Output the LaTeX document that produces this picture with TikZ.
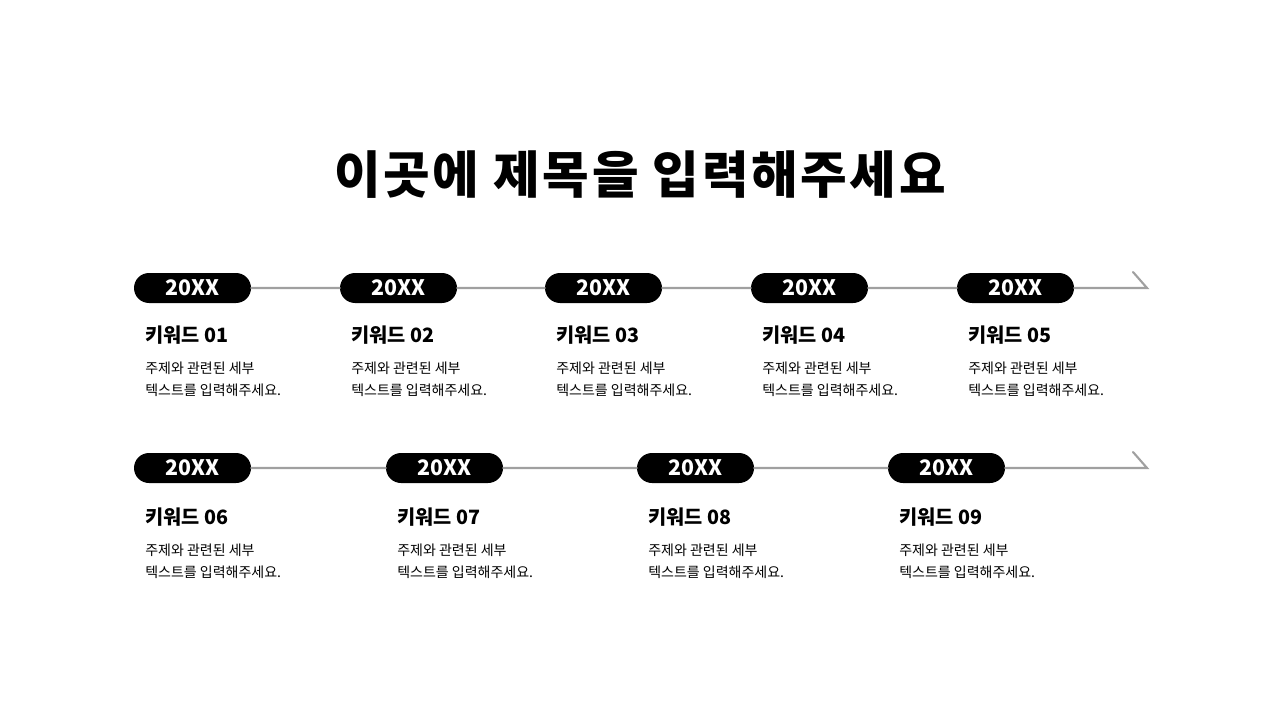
\documentclass[tikz,border=0pt]{standalone}
\usepackage{fontspec}
\newfontfamily\krfont{Noto Sans CJK KR}
\newfontfamily\krtitle[LetterSpace=5.2]{Noto Sans CJK KR}
\definecolor{linegray}{HTML}{A0A0A0}
\tikzset{
  title/.style={font=\krtitle\bfseries\fontsize{38}{44}\selectfont},
  year/.style={fill=black, text=white, rounded corners=11.25pt, inner sep=0pt,
    minimum width=87.75pt, minimum height=22.5pt, font=\krfont\bfseries\fontsize{16}{18}\selectfont},
  keyword/.style={anchor=base west, inner sep=0pt, font=\krfont\bfseries\fontsize{14.8}{18}\selectfont},
  detail/.style={anchor=base west, inner sep=0pt, align=left, font=\krfont\fontsize{10.5}{16.1}\selectfont},
  tl/.style={draw=linegray, line width=1.6pt, line cap=round},
}
\begin{document}
\begin{tikzpicture}[x=0.75pt,y=-0.75pt]
   \useasboundingbox[fill=white] (0,0) rectangle (1280,720);
   % 제목
   \node[title] (title) at (640,175) {이곳에 제목을 입력해주세요};

   % 첫째 줄
   \node[year] (y1) at (192.5,288) {20XX};
   \node[year] (y2) at (398.5,288) {20XX};
   \node[year] (y3) at (603.5,288) {20XX};
   \node[year] (y4) at (809.5,288) {20XX};
   \node[year] (y5) at (1015.5,288) {20XX};
   \coordinate (e1) at (1147,288);
   \draw[tl] (y1.east) -- (y2.west) (y2.east) -- (y3.west) (y3.east) -- (y4.west)
      (y4.east) -- (y5.west) (y5.east) -- (e1) -- ++(-14,-16);

   \node[keyword] (k1) at (145,342) {키워드 01};
   \node[keyword] (k2) at (351,342) {키워드 02};
   \node[keyword] (k3) at (556,342) {키워드 03};
   \node[keyword] (k4) at (762,342) {키워드 04};
   \node[keyword] (k5) at (968,342) {키워드 05};
   % 설명 (base = 둘째 줄)
   \node[detail] (d1) at (145,395) {주제와 관련된 세부\\텍스트를 입력해주세요.};
   \node[detail] (d2) at (351,395) {주제와 관련된 세부\\텍스트를 입력해주세요.};
   \node[detail] (d3) at (556,395) {주제와 관련된 세부\\텍스트를 입력해주세요.};
   \node[detail] (d4) at (762,395) {주제와 관련된 세부\\텍스트를 입력해주세요.};
   \node[detail] (d5) at (968,395) {주제와 관련된 세부\\텍스트를 입력해주세요.};

   % 둘째 줄
   \node[year] (y6) at (192.5,468) {20XX};
   \node[year] (y7) at (444.5,468) {20XX};
   \node[year] (y8) at (695.5,468) {20XX};
   \node[year] (y9) at (946.5,468) {20XX};
   \coordinate (e2) at (1147,468);
   \draw[tl] (y6.east) -- (y7.west) (y7.east) -- (y8.west) (y8.east) -- (y9.west)
      (y9.east) -- (e2) -- ++(-14,-16);

   \node[keyword] (k6) at (145,524) {키워드 06};
   \node[keyword] (k7) at (397,524) {키워드 07};
   \node[keyword] (k8) at (648,524) {키워드 08};
   \node[keyword] (k9) at (899,524) {키워드 09};
   \node[detail] (d6) at (145,577) {주제와 관련된 세부\\텍스트를 입력해주세요.};
   \node[detail] (d7) at (397,577) {주제와 관련된 세부\\텍스트를 입력해주세요.};
   \node[detail] (d8) at (648,577) {주제와 관련된 세부\\텍스트를 입력해주세요.};
   \node[detail] (d9) at (899,577) {주제와 관련된 세부\\텍스트를 입력해주세요.};
\end{tikzpicture}
\end{document}
